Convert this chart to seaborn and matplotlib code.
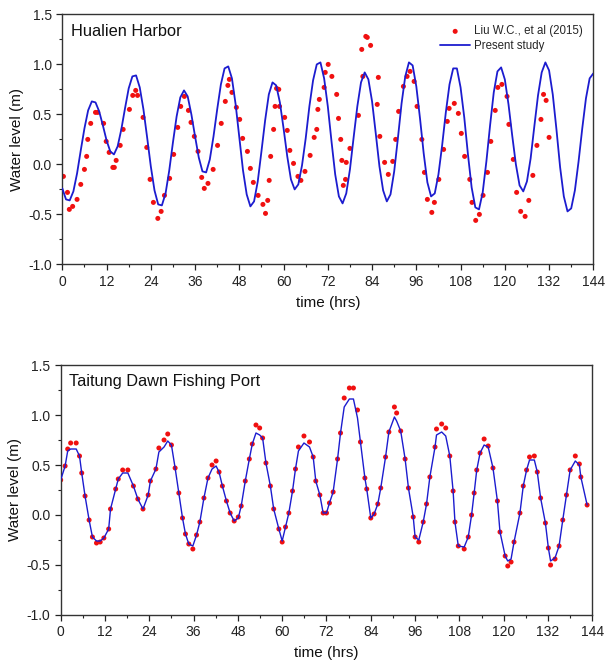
import matplotlib
matplotlib.use("Agg")
import matplotlib.pyplot as plt
from matplotlib.ticker import MultipleLocator
import seaborn as sns

# Hualien Harbor - observed (Liu W.C., et al 2015), time in hours and water level in m
hualien_obs_t = [0.3, 1.4, 1.9, 2.8, 4.0, 5.0, 6.0, 6.6, 6.9, 7.7, 9.0, 9.6, 11.2, 11.9, 12.7,
                 13.7, 14.1, 14.6, 15.7, 16.5, 18.2, 19.1, 19.9, 20.4, 21.9, 22.9, 23.8, 24.7,
                 25.9, 26.8, 27.7, 29.1, 30.2, 31.3, 32.1, 33.1, 34.2, 34.9, 35.8, 36.8, 37.8,
                 38.5, 39.5, 40.9, 42.1, 43.1, 44.2, 44.9, 45.3, 46.0, 47.2, 48.1, 48.9, 50.2,
                 51.0, 51.8, 53.1, 54.4, 55.1, 55.7, 56.1, 56.5, 57.3, 57.7, 58.1, 58.7, 58.9,
                 60.3, 61.0, 61.7, 62.7, 63.9, 64.7, 65.8, 67.2, 68.3, 69.0, 69.3, 69.7, 71.0,
                 71.3, 72.1, 73.1, 74.4, 74.9, 75.5, 75.8, 76.2, 76.8, 77.0, 78.0, 80.3, 81.2,
                 81.5, 82.3, 82.7, 83.6, 85.4, 85.7, 86.1, 87.4, 88.4, 89.6, 90.4, 91.2, 92.5,
                 93.5, 94.3, 95.4, 96.2, 97.5, 98.2, 99.0, 100.2, 100.9, 102.1, 103.4, 104.4,
                 104.9, 106.3, 107.4, 108.2, 109.1, 110.5, 111.1, 112.1, 113.1, 114.1, 115.3,
                 116.2, 117.4, 118.1, 119.2, 120.6, 121.1, 122.3, 123.2, 124.3, 125.5, 126.5,
                 127.6, 128.7, 129.8, 130.5, 131.2, 132.0]
hualien_obs_wl = [-0.12, -0.28, -0.45, -0.42, -0.35, -0.20, -0.05, 0.08, 0.25, 0.41, 0.52, 0.52,
                  0.41, 0.23, 0.12, -0.03, -0.03, 0.04, 0.19, 0.35, 0.55, 0.69, 0.74, 0.69, 0.47,
                  0.17, -0.15, -0.38, -0.54, -0.47, -0.31, -0.14, 0.10, 0.37, 0.58, 0.68, 0.54,
                  0.42, 0.28, 0.13, -0.13, -0.24, -0.19, -0.05, 0.19, 0.41, 0.63, 0.79, 0.85,
                  0.72, 0.57, 0.45, 0.26, 0.13, -0.04, -0.18, -0.31, -0.40, -0.49, -0.36, -0.16,
                  0.08, 0.35, 0.58, 0.76, 0.75, 0.58, 0.47, 0.34, 0.14, 0.01, -0.12, -0.16,
                  -0.07, 0.09, 0.27, 0.35, 0.55, 0.65, 0.77, 0.92, 1.00, 0.88, 0.70, 0.46, 0.25,
                  0.04, -0.21, -0.15, 0.02, 0.16, 0.49, 1.15, 0.88, 1.28, 1.27, 1.19, 0.60, 0.87,
                  0.28, 0.02, -0.10, 0.03, 0.25, 0.53, 0.78, 0.88, 0.93, 0.83, 0.58, 0.25, -0.08,
                  -0.35, -0.48, -0.38, -0.15, 0.15, 0.43, 0.56, 0.61, 0.51, 0.31, 0.08, -0.15,
                  -0.38, -0.56, -0.50, -0.31, -0.08, 0.23, 0.54, 0.77, 0.80, 0.68, 0.40, 0.05,
                  -0.28, -0.47, -0.52, -0.36, -0.11, 0.19, 0.45, 0.70, 0.64, 0.27]

# Hualien Harbor - present study, hourly from 0 to 144 h
hualien_hours = list(range(145))
hualien_model_wl = [-0.24, -0.35, -0.36, -0.27, -0.09, 0.14, 0.36, 0.54, 0.63, 0.62, 0.53, 0.39,
                    0.24, 0.13, 0.10, 0.18, 0.35, 0.56, 0.76, 0.88, 0.89, 0.77, 0.55, 0.27,
                    -0.02, -0.26, -0.40, -0.41, -0.29, -0.06, 0.22, 0.48, 0.67, 0.74, 0.68, 0.50,
                    0.28, 0.07, -0.07, -0.08, 0.05, 0.28, 0.55, 0.80, 0.96, 0.98, 0.86, 0.60,
                    0.27, -0.06, -0.30, -0.42, -0.37, -0.17, 0.13, 0.44, 0.70, 0.82, 0.79, 0.62,
                    0.36, 0.08, -0.15, -0.25, -0.20, -0.01, 0.26, 0.58, 0.84, 1.00, 1.02, 0.86,
                    0.58, 0.23, -0.10, -0.32, -0.39, -0.29, -0.05, 0.27, 0.58, 0.82, 0.92, 0.85,
                    0.63, 0.31, -0.02, -0.26, -0.37, -0.30, -0.07, 0.26, 0.61, 0.88, 1.02, 0.99,
                    0.78, 0.46, 0.11, -0.18, -0.32, -0.29, -0.10, 0.19, 0.52, 0.80, 0.96, 0.96,
                    0.77, 0.47, 0.10, -0.23, -0.43, -0.45, -0.28, 0.03, 0.39, 0.72, 0.93, 0.97,
                    0.85, 0.60, 0.29, 0.00, -0.21, -0.27, -0.17, 0.06, 0.38, 0.69, 0.92, 1.02,
                    0.94, 0.70, 0.35, -0.03, -0.32, -0.47, -0.44, -0.26, 0.03, 0.36, 0.66, 0.86,
                    0.91]

# Taitung Dawn Fishing Port - observed points and model line at the same times
taitung_t = [0.0, 1.2, 1.9, 2.7, 4.2, 5.1, 5.7, 6.6, 7.7, 8.6, 9.7, 10.7, 11.7, 13.0, 13.5, 14.9,
             15.6, 16.8, 18.2, 19.7, 20.9, 22.3, 23.7, 24.3, 25.8, 26.6, 28.0, 29.0, 30.0, 31.0,
             32.0, 33.0, 33.8, 34.7, 35.8, 36.8, 37.7, 38.8, 39.9, 41.0, 42.1, 42.9, 43.8, 44.9,
             45.9, 47.0, 48.1, 48.9, 50.0, 51.1, 51.9, 52.9, 53.9, 54.7, 55.6, 56.8, 57.7, 59.1,
             60.0, 60.9, 61.8, 62.8, 63.6, 64.4, 65.9, 67.4, 68.4, 69.1, 70.2, 71.1, 72.0, 72.8,
             73.8, 75.0, 75.8, 76.8, 78.2, 79.3, 80.4, 81.2, 82.4, 82.9, 84.0, 84.9, 85.9, 86.7,
             88.0, 88.9, 90.4, 91.0, 92.1, 93.3, 94.2, 95.5, 96.0, 97.0, 98.2, 99.1, 100.0,
             101.4, 101.8, 103.2, 104.3, 105.4, 106.3, 106.8, 107.7, 109.3, 110.4, 111.3, 112.0,
             112.7, 113.6, 114.7, 115.8, 117.1, 118.3, 119.0, 120.4, 121.1, 122.0, 122.8, 124.4,
             125.3, 126.2, 127.0, 128.3, 129.1, 130.0, 131.3, 132.1, 132.7, 133.9, 135.0, 136.0,
             137.0, 138.0, 139.4, 140.5, 140.9, 142.6]
taitung_obs_wl = [0.35, 0.49, 0.66, 0.72, 0.72, 0.59, 0.42, 0.19, -0.05, -0.22, -0.28, -0.27,
                  -0.23, -0.14, 0.06, 0.26, 0.36, 0.45, 0.45, 0.29, 0.16, 0.06, 0.20, 0.34, 0.46,
                  0.67, 0.75, 0.81, 0.70, 0.47, 0.22, -0.03, -0.19, -0.29, -0.34, -0.20, -0.07,
                  0.17, 0.37, 0.50, 0.54, 0.43, 0.29, 0.14, 0.02, -0.06, -0.02, 0.09, 0.34, 0.56,
                  0.71, 0.90, 0.87, 0.77, 0.52, 0.29, 0.06, -0.14, -0.27, -0.12, 0.02, 0.24, 0.46,
                  0.68, 0.79, 0.73, 0.58, 0.34, 0.20, 0.02, 0.02, 0.12, 0.23, 0.56, 0.82, 1.17,
                  1.27, 1.27, 1.05, 0.73, 0.37, 0.26, -0.03, 0.01, 0.11, 0.27, 0.58, 0.83, 1.08,
                  1.02, 0.84, 0.56, 0.27, -0.02, -0.22, -0.27, -0.07, 0.11, 0.38, 0.68, 0.86,
                  0.91, 0.87, 0.59, 0.24, -0.07, -0.31, -0.34, -0.22, 0.00, 0.22, 0.45, 0.62,
                  0.76, 0.69, 0.47, 0.14, -0.17, -0.41, -0.51, -0.47, -0.27, 0.02, 0.29, 0.45,
                  0.58, 0.59, 0.43, 0.17, -0.08, -0.33, -0.50, -0.44, -0.31, -0.05, 0.20, 0.45,
                  0.59, 0.51, 0.38, 0.10]
taitung_model_wl = [0.35, 0.49, 0.64, 0.66, 0.66, 0.59, 0.42, 0.19, -0.05, -0.22, -0.26, -0.26,
                    -0.23, -0.14, 0.06, 0.26, 0.36, 0.42, 0.42, 0.29, 0.16, 0.06, 0.20, 0.34,
                    0.46, 0.63, 0.68, 0.74, 0.70, 0.47, 0.22, -0.03, -0.19, -0.29, -0.31, -0.20,
                    -0.07, 0.17, 0.37, 0.46, 0.49, 0.43, 0.29, 0.14, 0.02, -0.06, -0.03, 0.09,
                    0.34, 0.56, 0.71, 0.82, 0.80, 0.77, 0.52, 0.29, 0.06, -0.14, -0.26, -0.12,
                    0.02, 0.24, 0.46, 0.64, 0.72, 0.68, 0.58, 0.34, 0.20, 0.02, 0.02, 0.12, 0.23,
                    0.56, 0.82, 1.08, 1.16, 1.16, 0.97, 0.73, 0.37, 0.26, -0.03, 0.01, 0.11, 0.27,
                    0.58, 0.83, 0.98, 0.94, 0.84, 0.56, 0.27, -0.02, -0.22, -0.25, -0.07, 0.11,
                    0.38, 0.68, 0.80, 0.83, 0.79, 0.59, 0.24, -0.07, -0.31, -0.32, -0.22, 0.00,
                    0.22, 0.45, 0.62, 0.70, 0.68, 0.47, 0.14, -0.17, -0.41, -0.46, -0.44, -0.27,
                    0.02, 0.29, 0.45, 0.55, 0.55, 0.43, 0.17, -0.08, -0.33, -0.46, -0.43, -0.31,
                    -0.05, 0.20, 0.45, 0.54, 0.50, 0.38, 0.10]

obs_label = "Liu W.C., et al (2015)"
model_label = "Present study"
dot_color = "#f01010"
line_color = "#1c1ccf"

sns.set_style("ticks")
plt.rcParams["font.family"] = ["Liberation Sans", "DejaVu Sans"]
plt.rcParams["axes.unicode_minus"] = False

fig = plt.figure(figsize=(6.05, 6.61), dpi=100)
ax1 = fig.add_axes([0.103, 0.600, 0.8777, 0.3782])
ax2 = fig.add_axes([0.1003, 0.0696, 0.8787, 0.3782])


def style_axis(ax, title):
    '''
    shared axis formatting for both panels
    '''
    ax.set_xlim(0, 144)
    ax.set_ylim(-1.0, 1.5)
    ax.set_xticks(range(0, 145, 12))
    ax.xaxis.set_minor_locator(MultipleLocator(6))
    ax.yaxis.set_major_locator(MultipleLocator(0.5))
    ax.yaxis.set_minor_locator(MultipleLocator(0.25))
    ax.tick_params(which="major", length=4, width=0.9, labelsize=10,
                   colors="#222222", direction="out")
    ax.tick_params(which="minor", length=2.5, width=0.8, direction="out", color="#222222")
    for sp in ax.spines.values():
        sp.set_visible(True)
        sp.set_color("#333333")
        sp.set_linewidth(1.0)
    ax.set_xlabel("time (hrs)", fontsize=11, labelpad=5, color="#111111")
    ax.set_ylabel("Water level (m)", fontsize=11, labelpad=3, color="#111111")
    ax.text(0.016, 0.933, title, transform=ax.transAxes, fontsize=11.8,
            va="center", ha="left", color="#111111")


# top panel
sns.scatterplot(x=hualien_obs_t, y=hualien_obs_wl, ax=ax1, color=dot_color, s=13,
                edgecolor="none", linewidth=0, label=obs_label, zorder=2)
sns.lineplot(x=hualien_hours, y=hualien_model_wl, ax=ax1, color=line_color, linewidth=1.3,
             label=model_label, zorder=3)
style_axis(ax1, "Hualien Harbor")
ax1.legend(loc="upper right", bbox_to_anchor=(1.0, 1.0), frameon=False, fontsize=8.3,
           handlelength=2.6, handletextpad=0.3, labelspacing=0.25, borderpad=0.45,
           markerscale=1.0)

# bottom panel
sns.scatterplot(x=taitung_t, y=taitung_obs_wl, ax=ax2, color=dot_color, s=13,
                edgecolor="none", linewidth=0, zorder=2)
sns.lineplot(x=taitung_t, y=taitung_model_wl, ax=ax2, color=line_color, linewidth=1.0,
             zorder=3)
style_axis(ax2, "Taitung Dawn Fishing Port")
if ax2.get_legend() is not None:
    ax2.get_legend().remove()

fig.savefig("out.png", dpi=100)
